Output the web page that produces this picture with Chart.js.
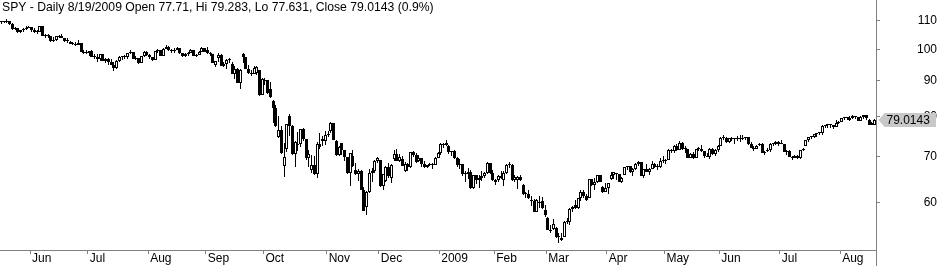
<!DOCTYPE html>
<html>
<head>
<meta charset="utf-8">
<title>SPY - Daily</title>
<script src="https://cdn.jsdelivr.net/npm/chart.js@4.4.0/dist/chart.umd.min.js"></script>
<style>
  html, body { margin: 0; padding: 0; background: #fff; }
  #wrap { width: 937px; height: 266px; }
</style>
</head>
<body>
<div id="wrap"><canvas id="spy-chart" width="937" height="266"></canvas></div>
<script>
// month axis: trading days per month, first (partial) May 2008 has no tick
const monthLabels = ['', 'Jun', 'Jul', 'Aug', 'Sep', 'Oct', 'Nov', 'Dec', '2009', 'Feb', 'Mar', 'Apr', 'May', 'Jun', 'Jul', 'Aug'];
const monthDays = [11, 21, 22, 21, 21, 23, 19, 22, 20, 19, 22, 21, 20, 22, 22, 13];

// price axis
const priceTicks = [60, 70, 80, 90, 100, 110];

// daily OHLC, 15 May 2008 .. 19 Aug 2009, one line per month
const opens = [
  109.60,109.47,109.61,109.71,108.69,106.95,107.23,105.81,106.53,106.96,107.53,
  107.69,106.56,105.94,105.91,107.97,104.64,104.72,104.46,102.70,103.04,104.30,104.59,103.89,102.88,102.60,101.70,101.88,101.59,102.19,99.19,98.82,
  98.94,99.32,97.52,97.62,96.80,98.46,96.21,96.89,95.81,94.95,93.91,96.27,97.42,97.45,97.40,98.71,99.11,96.82,97.22,95.42,97.65,99.27,
  97.97,97.42,96.55,99.32,99.65,97.87,100.21,100.90,99.69,99.40,99.94,100.35,98.84,97.92,98.52,98.77,99.89,97.93,98.29,99.07,100.54,
  99.90,98.76,98.56,95.00,97.00,98.00,94.65,95.24,96.55,95.20,92.20,93.81,89.39,98.30,97.52,93.79,92.32,92.14,92.50,93.30,85.97,
  90.00,90.21,87.50,84.30,82.12,74.80,76.53,67.70,71.80,80.00,77.55,70.50,72.80,73.08,76.57,74.21,69.68,66.80,68.13,65.96,73.08,73.60,73.80,
  75.27,76.20,78.15,73.80,70.31,73.10,71.42,69.85,66.22,70.00,67.00,66.10,66.75,62.67,59.20,62.16,66.19,66.62,68.97,
  69.10,63.42,64.50,67.66,65.10,69.40,70.68,69.05,69.50,66.60,68.35,67.49,70.95,70.27,69.00,69.52,68.25,67.59,67.98,68.34,68.07,69.74,
  70.72,72.96,72.62,72.50,70.99,71.23,69.71,68.14,68.26,65.98,66.06,66.56,63.05,65.79,64.79,65.14,65.50,66.22,68.44,66.17,
  64.30,64.63,65.65,64.80,66.23,68.01,68.11,64.77,64.80,65.40,63.70,61.79,61.73,60.60,60.29,58.20,60.20,60.40,58.60,
  57.00,54.87,54.90,55.20,53.50,53.30,53.60,56.34,56.20,58.78,59.60,59.03,60.93,62.20,61.30,61.00,64.93,63.60,64.22,65.71,63.30,62.14,
  62.95,64.90,65.83,66.20,65.92,64.35,65.90,67.58,67.75,66.39,67.23,68.27,68.61,65.68,67.07,66.56,67.22,68.35,67.66,67.47,68.93,
  68.86,69.24,71.58,71.31,72.55,71.59,73.32,71.74,71.67,69.74,70.46,69.66,71.78,71.65,71.28,70.09,69.98,71.83,70.46,71.55,
  72.52,74.39,74.54,73.52,74.36,74.17,74.10,74.36,74.10,74.55,74.66,72.88,71.95,71.86,72.80,73.05,70.82,71.20,71.44,72.98,72.87,73.53,
  72.90,72.90,71.09,71.27,69.87,69.75,70.00,69.72,71.45,72.50,73.96,74.60,74.57,75.42,75.70,75.66,77.42,77.65,77.89,77.68,77.33,78.25,
  78.60,79.51,79.75,79.52,79.50,80.13,79.86,78.85,79.76,80.31,79.10,77.69,77.71
];
const highs = [
  109.90,109.80,110.50,109.75,109.00,107.70,107.30,106.70,107.20,108.00,108.00,
  107.75,107.40,106.70,108.10,108.00,105.30,105.40,104.70,104.30,104.70,105.00,105.10,104.00,103.80,102.80,102.40,102.60,103.00,102.20,99.80,99.70,
  99.40,99.80,98.30,98.60,98.60,98.60,97.20,97.00,96.90,95.90,96.40,97.80,97.90,98.00,98.90,99.80,99.20,97.80,97.30,97.80,99.60,99.50,
  98.40,97.60,99.40,100.20,99.70,100.40,101.40,101.00,100.20,100.60,100.90,100.60,98.90,98.90,99.00,100.10,99.90,98.50,99.50,100.70,100.60,
  100.80,99.20,98.60,96.30,98.70,98.30,95.90,96.70,97.00,95.80,94.50,94.00,93.60,98.80,97.60,95.00,93.30,94.50,94.50,93.40,90.80,
  91.00,90.30,89.80,84.50,83.00,80.10,77.50,73.20,78.00,80.50,77.60,73.70,76.00,76.60,77.00,74.30,71.50,70.30,70.00,73.40,75.80,75.00,76.30,
  76.20,78.40,78.20,74.00,72.40,73.30,71.50,69.90,70.90,71.50,68.40,67.20,67.00,63.20,62.40,67.10,67.40,69.10,69.80,
  69.20,66.00,67.80,68.50,68.20,71.60,71.80,70.50,70.20,68.60,68.40,71.10,71.20,70.90,70.40,69.60,68.90,68.10,68.50,68.40,69.80,71.00,
  73.10,73.30,74.00,72.60,71.30,71.40,69.90,69.30,68.30,66.60,67.40,66.80,65.90,65.80,65.80,66.60,66.50,68.80,68.50,66.90,
  65.00,65.80,66.60,66.60,68.30,68.70,68.20,65.70,65.50,65.80,63.80,62.20,62.60,61.30,60.70,60.80,61.40,61.20,59.50,
  57.20,55.80,56.80,55.30,54.30,54.20,56.40,57.10,58.90,59.40,60.50,61.00,62.50,62.60,61.70,64.95,64.95,65.10,65.80,65.72,63.40,64.00,
  64.10,66.50,66.50,66.30,65.95,65.40,67.60,67.90,67.80,67.30,68.50,68.90,68.62,67.20,68.30,67.30,68.90,68.40,68.30,69.70,70.00,
  69.30,71.70,71.70,72.60,73.00,73.70,73.40,72.40,71.70,70.80,71.10,71.80,72.30,72.80,71.30,70.70,72.00,72.10,71.70,72.60,
  74.60,75.10,74.56,74.40,74.80,74.40,74.90,75.10,75.30,74.80,74.70,73.40,72.40,72.70,73.30,73.10,71.30,72.00,73.20,73.30,73.70,73.80,
  74.00,72.95,71.40,71.40,70.10,70.30,70.40,71.50,71.90,74.00,74.70,74.80,75.50,75.80,76.00,77.60,77.80,78.00,77.95,77.70,79.00,78.70,
  79.60,79.80,79.90,80.00,80.40,80.20,79.90,80.10,80.40,80.32,79.20,78.50,79.283
];
const lows = [
  108.80,109.00,109.10,108.40,106.70,106.60,105.70,105.50,106.00,106.80,107.20,
  106.00,105.50,105.40,105.80,104.50,104.00,103.90,102.60,102.50,102.90,103.80,103.80,102.60,102.20,101.70,101.50,101.00,101.50,99.10,98.40,98.50,
  97.70,97.40,96.90,96.00,96.30,96.10,95.60,94.90,94.80,93.00,93.60,96.00,96.50,96.90,96.80,98.40,96.70,96.40,95.30,95.40,97.50,97.80,
  96.90,96.30,96.50,98.80,97.70,97.70,100.00,99.50,98.80,98.90,99.80,98.50,97.60,97.50,97.70,98.70,97.80,97.50,98.00,99.00,99.00,
  98.50,97.80,95.50,94.40,96.00,94.60,94.20,93.80,95.60,92.10,90.50,89.30,87.50,95.60,93.70,92.10,91.50,92.00,91.90,85.60,85.90,
  88.80,86.30,85.00,78.30,77.20,74.50,70.50,65.30,71.00,75.00,70.40,67.60,71.30,72.20,73.60,69.10,67.50,66.20,65.90,65.10,71.80,72.50,72.60,
  74.60,75.80,73.90,70.00,70.00,70.30,68.90,66.10,63.50,67.60,65.90,64.40,62.50,58.30,57.60,62.00,64.30,66.20,68.40,
  63.30,62.70,64.30,65.10,64.00,69.00,68.90,68.70,67.70,66.40,66.70,67.30,69.80,68.50,68.60,67.50,67.40,67.40,67.80,67.20,68.00,69.60,
  70.40,72.10,72.50,70.60,70.00,69.50,67.60,67.20,65.50,64.30,65.00,62.90,62.80,63.80,63.00,64.60,65.20,66.10,66.00,64.40,
  63.70,64.20,64.90,63.40,66.00,67.40,64.40,64.30,62.80,64.60,61.60,61.00,60.80,59.30,58.10,58.10,58.90,58.80,57.30,
  54.70,54.20,54.70,53.30,52.40,52.80,53.50,55.90,55.80,58.20,58.80,58.80,60.30,60.90,60.30,61.00,63.40,62.70,64.00,64.20,61.90,62.10,
  61.80,64.80,65.00,64.80,64.20,64.00,65.70,66.80,66.20,65.60,66.80,67.70,65.50,65.10,66.40,65.80,67.10,67.40,66.90,67.40,68.40,
  68.30,69.20,70.90,70.70,71.30,71.40,71.60,70.90,69.60,69.60,69.50,69.60,71.30,71.00,69.60,69.80,69.40,70.40,70.00,71.10,
  72.50,74.00,73.20,73.30,73.60,73.00,73.80,73.50,74.00,74.00,72.70,71.90,71.30,71.70,72.50,70.70,70.30,71.00,71.00,72.50,72.70,72.50,
  72.90,71.00,70.30,69.80,69.10,69.60,69.40,69.50,71.20,72.40,73.50,74.10,74.50,74.80,75.20,75.30,76.90,77.00,77.00,76.80,77.30,78.00,
  78.50,79.00,78.90,78.80,79.40,79.40,78.70,78.70,79.30,79.10,77.60,77.60,77.631
];
const closes = [
  109.47,109.61,109.71,108.69,106.95,107.23,105.81,106.53,106.96,107.53,107.69,
  106.56,105.94,105.91,107.97,104.64,104.72,104.46,102.70,103.04,104.59,104.59,103.89,102.88,103.26,101.88,101.88,101.59,102.19,99.19,98.82,98.94,
  99.32,97.52,97.62,96.80,98.46,96.21,96.89,95.81,94.95,93.91,96.27,97.42,97.45,97.40,98.71,99.11,96.82,97.22,95.42,97.65,99.27,97.97,
  97.42,96.55,99.32,99.65,97.87,100.21,100.90,99.69,99.40,99.94,100.35,98.84,97.92,98.52,98.77,99.89,97.93,98.29,99.07,100.54,99.16,
  98.76,98.56,95.61,96.03,98.00,94.65,95.24,96.55,96.76,92.20,93.81,89.39,93.26,97.52,93.79,92.32,92.14,93.95,94.27,85.97,90.63,
  90.21,86.58,85.41,82.12,77.41,76.53,70.70,69.87,77.96,77.55,70.54,73.54,73.08,76.57,74.21,69.68,70.56,68.13,65.96,73.08,72.27,74.13,75.27,
  75.08,78.15,74.03,70.31,72.34,71.42,69.85,66.22,70.81,67.85,66.10,66.75,62.67,58.46,62.16,66.19,66.62,68.97,69.64,
  63.42,65.95,67.66,65.67,68.07,70.68,69.05,69.87,67.88,68.35,67.49,70.95,70.27,68.79,69.52,68.25,67.59,67.98,68.34,68.07,69.74,70.72,
  72.96,72.62,73.19,70.99,71.23,69.71,68.14,68.26,65.98,66.06,66.56,63.05,65.79,64.79,65.14,65.50,66.22,68.44,66.17,64.67,
  64.63,65.65,65.16,66.23,68.01,68.11,64.77,65.28,65.40,64.74,61.79,61.73,60.99,60.29,58.20,60.54,59.89,58.95,57.56,
  54.87,54.52,55.82,53.44,53.51,52.97,56.34,56.48,58.78,59.24,59.03,60.93,62.20,61.39,60.64,64.93,63.60,64.22,65.71,64.38,62.14,62.95,
  63.99,65.83,66.47,65.92,64.35,65.11,67.58,67.75,66.39,67.23,68.27,68.61,65.68,67.07,66.56,67.22,68.35,67.66,67.47,68.93,68.86,
  69.24,71.58,71.31,72.55,71.59,73.32,71.74,71.67,69.74,70.46,69.66,71.78,71.65,71.28,70.09,69.98,71.83,70.46,71.55,72.52,
  74.39,74.54,73.52,74.36,74.17,74.10,74.36,74.10,74.55,74.66,72.88,71.95,71.86,72.46,73.05,70.82,70.98,71.44,72.98,72.87,73.53,72.90,
  73.22,71.09,71.27,69.87,69.75,70.00,69.72,71.45,71.83,73.96,74.60,74.57,75.42,75.70,75.66,77.42,77.65,77.89,77.68,77.33,78.25,78.31,
  79.51,79.75,79.52,79.07,80.13,79.86,78.85,79.76,80.31,79.62,77.69,78.31,79.0143
];

const FONT = 'Arial, "Liberation Sans", sans-serif';

// category labels: month name on first trading day of each month
const dayLabels = [];
monthDays.forEach((n, m) => {
    for (let d = 0; d < n; d++) dayLabels.push(d === 0 ? monthLabels[m] : '');
});

const last = closes.length - 1;
const changePct = ((closes[last] / closes[last - 1] - 1) * 100).toFixed(1);
const titleText = 'SPY - Daily 8/19/2009 Open ' + opens[last] + ', Hi ' + highs[last] +
    ', Lo ' + lows[last] + ', Close ' + closes[last] + ' (' + changePct + '%)';

// keep candles on whole pixels so they stay crisp like the original
const snapPlugin = {
    id: 'snap',
    beforeDatasetsDraw(chart) {
        chart.data.datasets.forEach((ds, di) => {
            chart.getDatasetMeta(di).data.forEach(bar => {
                bar.x = Math.floor(bar.x) + 0.5;
                bar.y = Math.round(bar.y);
                bar.base = Math.round(bar.base);
            });
        });
    }
};

// title, full height price axis line, last price tag
const overlayPlugin = {
    id: 'overlay',
    afterDraw(chart) {
        const { ctx, chartArea, scales } = chart;
        ctx.save();
        const ax = Math.round(chartArea.right) + 0.5;
        ctx.strokeStyle = '#808080';
        ctx.lineWidth = 1;
        ctx.beginPath();
        ctx.moveTo(ax, 0);
        ctx.lineTo(ax, chart.height);
        ctx.stroke();

        ctx.font = '12.2px ' + FONT;
        ctx.fillStyle = '#000';
        ctx.textAlign = 'left';
        ctx.textBaseline = 'alphabetic';
        ctx.fillText(titleText, 2, 11);

        const y = Math.round(scales.y.getPixelForValue(closes[last]));
        ctx.fillStyle = '#c8c8c8';
        ctx.beginPath();
        ctx.moveTo(ax + 2, y);
        ctx.lineTo(ax + 8, y - 7);
        ctx.lineTo(936, y - 7);
        ctx.lineTo(936, y + 7);
        ctx.lineTo(ax + 8, y + 7);
        ctx.closePath();
        ctx.fill();
        ctx.font = '12px ' + FONT;
        ctx.fillStyle = '#000';
        ctx.textBaseline = 'middle';
        ctx.fillText(String(closes[last]), ax + 10, y + 1);
        ctx.restore();
    }
};

const ctx = document.getElementById('spy-chart').getContext('2d');
new Chart(ctx, {
    type: 'bar',
    data: {
        labels: dayLabels,
        datasets: [
            {
                // high-low wicks
                data: lows.map((l, i) => [l, highs[i]]),
                backgroundColor: '#000',
                borderWidth: 0,
                inflateAmount: 0,
                barThickness: 1,
                grouped: false,
                order: 2
            },
            {
                // open-close bodies, hollow when up
                data: opens.map((o, i) => [o, closes[i]]),
                backgroundColor: c => closes[c.dataIndex] >= opens[c.dataIndex] ? '#fff' : '#000',
                borderColor: '#000',
                borderWidth: 1,
                borderSkipped: false,
                inflateAmount: 0,
                minBarLength: 1,
                barThickness: 3,
                grouped: false,
                order: 1
            }
        ]
    },
    options: {
        responsive: false,
        animation: false,
        layout: { padding: 0 },
        plugins: {
            legend: { display: false },
            tooltip: { enabled: false }
        },
        scales: {
            x: {
                type: 'category',
                offset: true,
                grid: {
                    offset: true,
                    drawOnChartArea: false,
                    tickLength: 4,
                    color: c => dayLabels[c.index] ? '#808080' : 'rgba(0,0,0,0)'
                },
                border: { color: '#808080' },
                ticks: {
                    autoSkip: false,
                    maxRotation: 0,
                    minRotation: 0,
                    align: 'start',
                    labelOffset: 0.5,
                    padding: -3,
                    color: '#000',
                    font: { family: FONT, size: 12 }
                },
                afterFit: s => { s.height = 16; s.paddingLeft = 0; s.paddingRight = 0; }
            },
            y: {
                type: 'logarithmic',
                position: 'right',
                min: 51.26,
                max: 117.85,
                grid: { drawOnChartArea: false, tickLength: 4, color: '#808080' },
                border: { color: '#808080' },
                ticks: {
                    crossAlign: 'far',
                    padding: 32,
                    color: '#000',
                    font: { family: FONT, size: 12 },
                    callback: v => String(v)
                },
                afterBuildTicks: s => { s.ticks = priceTicks.map(v => ({ value: v })); },
                afterFit: s => { s.width = 61; s.paddingTop = 0; s.paddingBottom = 0; }
            }
        }
    },
    plugins: [snapPlugin, overlayPlugin]
});
</script>
</body>
</html>
